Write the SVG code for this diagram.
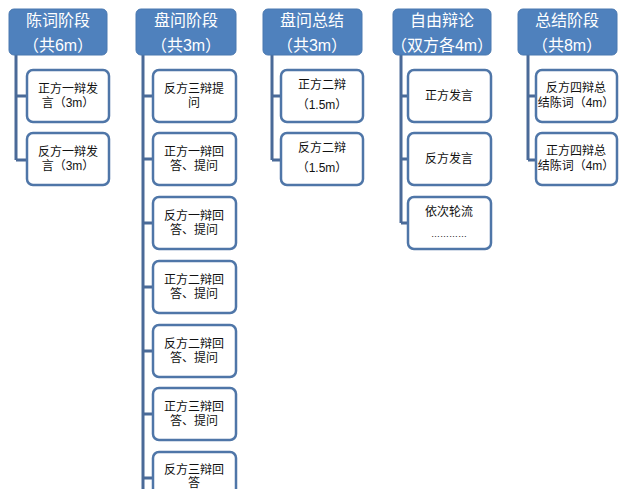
<svg xmlns="http://www.w3.org/2000/svg" width="636" height="489" viewBox="0 0 636 489">
<style>
.hd rect{fill:#4f81bd;stroke:#4a78b0;stroke-width:1}
.hd text{fill:#ffffff;font-family:"Liberation Sans","Noto Sans CJK SC",sans-serif;font-size:16px;text-anchor:middle}
.ch rect{fill:#ffffff;stroke:#4f76a8;stroke-width:2.5}
.ch text{fill:#111111;font-family:"Liberation Sans","Noto Sans CJK SC",sans-serif;font-size:12px;text-anchor:middle}
#connectors path{fill:none;stroke:#4a6a98;stroke-width:3}
</style>
<rect width="636" height="489" fill="#ffffff"/>
<g id="connectors">
<path d="M16,55V160M16,96H27M16,160H27"/>
<path d="M143,55V489M143,96H153M143,159H153M143,223H153M143,287H153M143,351H153M143,414H153M143,478H153"/>
<path d="M272,55V160M272,96H281M272,160H281"/>
<path d="M401,55V223M401,96H408M401,159H408M401,223H408"/>
<path d="M528,55V160M528,96H536M528,160H536"/>
</g>
<g id="h1" class="hd"><rect x="9" y="9" width="98" height="46" rx="5"/><text x="58" y="26">陈词阶段</text><text x="58" y="51">（共6m）</text></g>
<g id="h2" class="hd"><rect x="136" y="9" width="100" height="46" rx="5"/><text x="186" y="26">盘问阶段</text><text x="186" y="51">（共3m）</text></g>
<g id="h3" class="hd"><rect x="263" y="9" width="99" height="46" rx="5"/><text x="312" y="26">盘问总结</text><text x="312" y="51">（共3m）</text></g>
<g id="h4" class="hd"><rect x="393" y="9" width="98" height="46" rx="5"/><text x="442" y="26">自由辩论</text><text x="442" y="51">（双方各4m）</text></g>
<g id="h5" class="hd"><rect x="518" y="9" width="99" height="46" rx="5"/><text x="567" y="26">总结阶段</text><text x="567" y="51">（共8m）</text></g>

<g id="c1a" class="ch"><rect x="27" y="70" width="82" height="52" rx="6"/><text x="68" y="93">正方一辩发</text><text x="68" y="107">言（3m）</text></g>
<g id="c1b" class="ch"><rect x="27" y="133" width="82" height="52" rx="6"/><text x="68" y="156">反方一辩发</text><text x="68" y="170">言（3m）</text></g>

<g id="c2a" class="ch"><rect x="153" y="70" width="83" height="52" rx="6"/><text x="194" y="93">反方三辩提</text><text x="194" y="107">问</text></g>
<g id="c2b" class="ch"><rect x="153" y="133" width="83" height="52" rx="6"/><text x="194" y="156">正方一辩回</text><text x="194" y="170">答、提问</text></g>
<g id="c2c" class="ch"><rect x="153" y="197" width="83" height="52" rx="6"/><text x="194" y="220">反方一辩回</text><text x="194" y="234">答、提问</text></g>
<g id="c2d" class="ch"><rect x="153" y="261" width="83" height="52" rx="6"/><text x="194" y="284">正方二辩回</text><text x="194" y="298">答、提问</text></g>
<g id="c2e" class="ch"><rect x="153" y="325" width="83" height="52" rx="6"/><text x="194" y="348">反方二辩回</text><text x="194" y="362">答、提问</text></g>
<g id="c2f" class="ch"><rect x="153" y="388" width="83" height="52" rx="6"/><text x="194" y="411">正方三辩回</text><text x="194" y="425">答、提问</text></g>
<g id="c2g" class="ch"><rect x="153" y="452" width="83" height="52" rx="6"/><text x="194" y="474">反方三辩回</text><text x="194" y="487">答</text></g>

<g id="c3a" class="ch"><rect x="281" y="70" width="82" height="52" rx="6"/><text x="322" y="89">正方二辩</text><text x="322" y="109">（1.5m）</text></g>
<g id="c3b" class="ch"><rect x="281" y="133" width="82" height="52" rx="6"/><text x="322" y="152">反方二辩</text><text x="322" y="172">（1.5m）</text></g>

<g id="c4a" class="ch"><rect x="408" y="70" width="83" height="52" rx="6"/><text x="449" y="100">正方发言</text></g>
<g id="c4b" class="ch"><rect x="408" y="133" width="83" height="52" rx="6"/><text x="449" y="163">反方发言</text></g>
<g id="c4c" class="ch"><rect x="408" y="197" width="83" height="52" rx="6"/><text x="449" y="216">依次轮流</text><text x="449" y="237" style="font-size:9px">…………</text></g>

<g id="c5a" class="ch"><rect x="536" y="70" width="81" height="52" rx="6"/><text x="576" y="92">反方四辩总</text><text x="576" y="107">结陈词（4m）</text></g>
<g id="c5b" class="ch"><rect x="536" y="133" width="81" height="52" rx="6"/><text x="576" y="155">正方四辩总</text><text x="576" y="170">结陈词（4m）</text></g>
</svg>
